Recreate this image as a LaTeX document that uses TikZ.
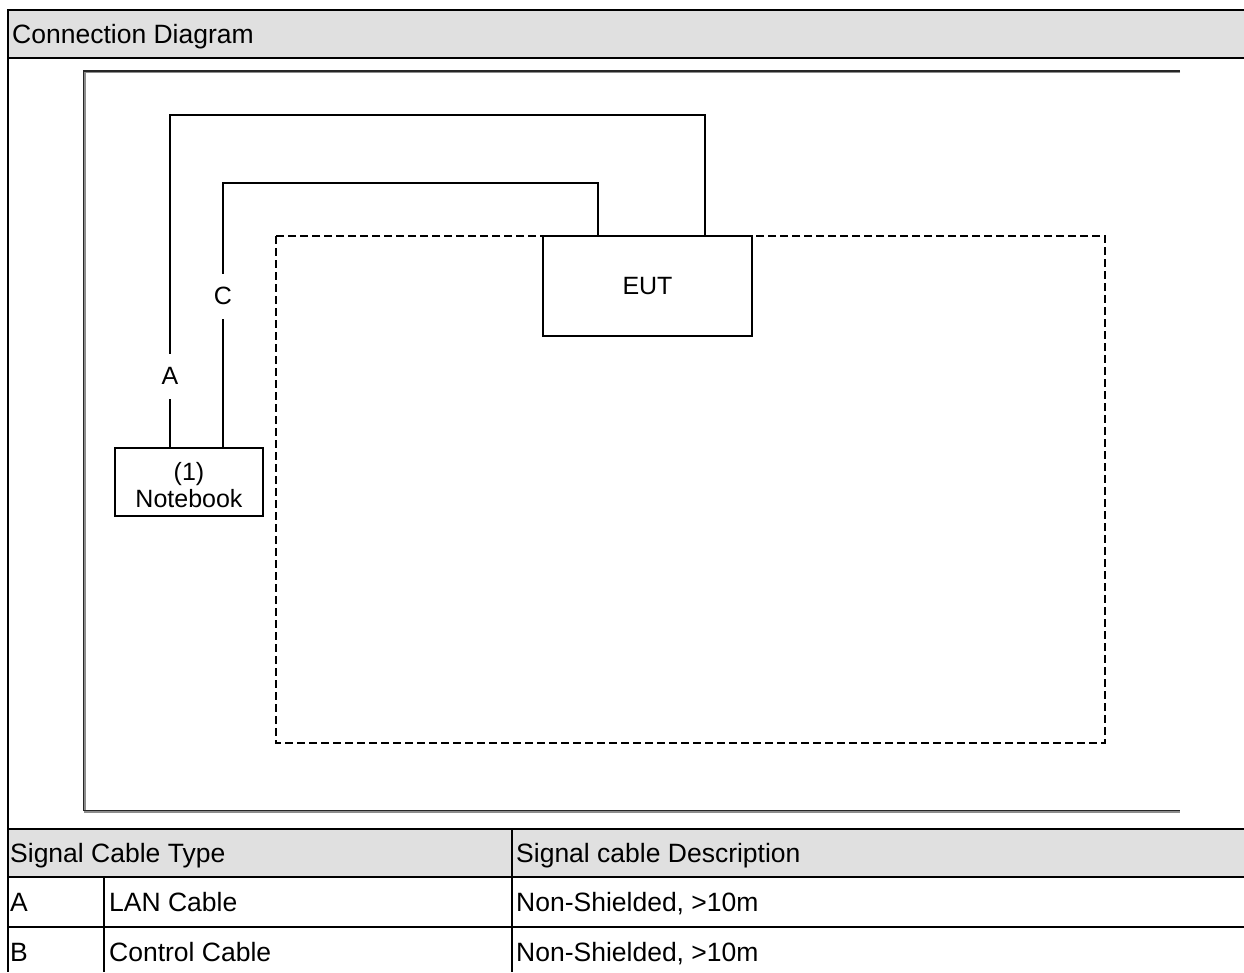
\documentclass[tikz,border=0pt]{standalone}
\usepackage{fontspec}
\setmainfont{Liberation Sans}
\definecolor{hdrgray}{HTML}{E0E0E0}
\tikzset{
  rule/.style={line width=2pt, black},
  cable/.style={line width=1.4pt, black},
  framestyle/.style={line width=1.6pt, black!85},
  shadowline/.style={line width=1.4pt, black!45},
  boxnode/.style={draw, line width=1.4pt, fill=white, inner sep=0pt, align=center, font=\fontsize{25}{27}\selectfont},
  lbl/.style={fill=white, inner sep=0pt, minimum width=20pt, minimum height=45pt, font=\fontsize{25}{30}\selectfont},
  celltext/.style={anchor=base west, inner sep=0pt, font=\fontsize{26.5}{30}\selectfont},
  dashbox/.style={line width=1.5pt, dash pattern=on 8pt off 4pt},
}
\begin{document}
\begin{tikzpicture}[x=1pt,y=-1pt]
\useasboundingbox (0,0) rectangle (1244,972);
% grey header rows
\fill[hdrgray] (8,10) rectangle (1244,58);
\fill[hdrgray] (8,829) rectangle (1244,877);
% outer rules
\draw[rule] (1244,10) -- (8,10) -- (8,972);
\draw[rule] (8,58) -- (1244,58);
\draw[rule] (8,829) -- (1244,829);
\draw[rule] (8,877) -- (1244,877);
\draw[rule] (8,927) -- (1244,927);
\draw[rule] (104,877) -- (104,972);
\draw[rule] (512,829) -- (512,972);
% header texts
\node[celltext] (title) at (12,43.5) {Connection Diagram};
\node[celltext] (h1) at (10,862.5) {Signal Cable Type};
\node[celltext] (h2) at (516,862.5) {Signal cable Description};
\node[celltext] (ra1) at (10,911.5) {A};
\node[celltext] (ra2) at (109,911.5) {LAN Cable};
\node[celltext] (ra3) at (516,911.5) {Non-Shielded, >10m};
\node[celltext] (rb1) at (10,961.5) {B};
\node[celltext] (rb2) at (109,961.5) {Control Cable};
\node[celltext] (rb3) at (516,961.5) {Non-Shielded, >10m};
% inner frame (open on the right)
\draw[shadowline] (1180,72.6) -- (85,72.6) -- (85,812) -- (1180,812);
\draw[framestyle] (1180,71) -- (83.5,71) -- (83.5,810.5) -- (1180,810.5);
% dashed table area
\draw[dashbox] (276,236) rectangle (1105,743);
% equipment
\node[boxnode, minimum width=209pt, minimum height=100pt] (eut) at (647.5,286) {EUT};
\node[boxnode, minimum width=148pt, minimum height=68pt] (nb) at (189,482) {\rule{0pt}{24pt}(1)\\Notebook};
% cable routes
\coordinate (a1) at (170,115);
\coordinate (a2) at (705,115);
\coordinate (c1) at (223,183);
\coordinate (c2) at (598,183);
\draw[cable] (nb.north -| a1) -- (a1) -- (a2) -- (a2 |- eut.north);
\draw[cable] (nb.north -| c1) -- (c1) -- (c2) -- (c2 |- eut.north);
\node[lbl] (la) at (170,376) {A};
\node[lbl] (lc) at (223,296) {C};
\end{tikzpicture}
\end{document}
